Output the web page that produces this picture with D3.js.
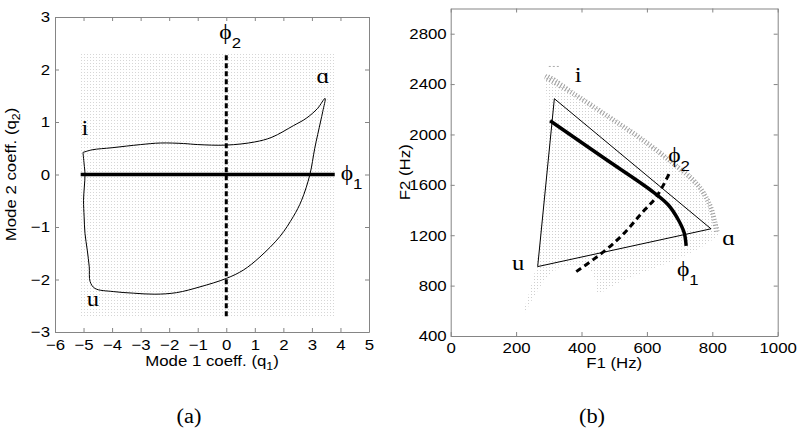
<!DOCTYPE html>
<html>
<head>
<meta charset="utf-8">
<script src="https://cdn.jsdelivr.net/npm/d3@7"></script>
<style>
  body { margin: 0; background: #fff; }
</style>
</head>
<body>
<svg id="chart"></svg>
<script>
const width = 800;
const height = 430;

const sans = '"Liberation Sans", Arial, Helvetica, sans-serif';
const serif = '"Liberation Serif", "Times New Roman", serif';

// ---- panel (a): mode coefficients ----
const q1Ticks = [-6, -5, -4, -3, -2, -1, 0, 1, 2, 3, 4, 5];
const q2Ticks = [-3, -2, -1, 0, 1, 2, 3];
const gridQ1 = [-5.1, 3.8];
const gridQ2 = [-2.7, 2.3];

// closed vowel loop: i -> a -> (down) -> u -> (up) -> i
const vowelLoop = [
  [-5.02, 0.42], [-4.7, 0.47], [-4.0, 0.51], [-3.0, 0.57], [-2.3, 0.6],
  [-1.5, 0.59], [-1.0, 0.57], [0.0, 0.56], [1.0, 0.62], [1.6, 0.71],
  [2.35, 0.93], [2.8, 1.07], [3.2, 1.26], [3.46, 1.45],
  [3.38, 1.2], [3.3, 1.0], [3.1, 0.5], [2.93, 0.0], [2.64, -0.49],
  [2.35, -0.8], [1.88, -1.18], [1.18, -1.57], [0.6, -1.82], [0.0, -1.98],
  [-0.92, -2.14], [-1.74, -2.25], [-2.5, -2.28], [-3.26, -2.26],
  [-3.96, -2.23], [-4.6, -2.17],
  [-4.77, -2.04], [-4.8, -1.76], [-4.87, -1.44], [-4.95, -1.12],
  [-4.98, -0.8], [-5.0, -0.49], [-4.95, 0.0], [-4.98, 0.2], [-5.02, 0.42]
];

const vowelLabelsA = [
  {text: 'i', q1: -4.95, q2: 0.75},
  {text: 'ɑ', q1: 3.39, q2: 1.74},
  {text: 'u', q1: -4.67, q2: -2.5}
];

// ---- panel (b): formant plane ----
const f1Ticks = [0, 200, 400, 600, 800, 1000];
const f2Ticks = [400, 800, 1200, 1600, 2000, 2400, 2800];

const vowelTriangle = [[317, 2284], [796, 1251], [266, 951]];

const phi1Curve = [
  [304, 2109], [472, 1807], [610, 1561], [665, 1442],
  [696, 1323], [714, 1219], [720, 1116]
];

const phi2Curve = [
  [384, 911], [472, 1078], [530, 1215], [584, 1376], [630, 1508], [670, 1700]
];

// outline of the mapped grid (outer edge first, then right, bottom, left)
const fanOutline = [
  [291, 2475], [380, 2340], [487, 2157], [578, 1998], [679, 1799],
  [762, 1609], [799, 1450], [815, 1307], [821, 1219],
  [778, 1124], [701, 1020], [609, 925], [518, 829], [447, 742],
  [441, 845], [420, 941], [380, 965], [334, 941], [294, 861],
  [258, 726], [221, 567], [242, 766], [261, 957], [276, 1322],
  [288, 1799], [294, 2276]
];
const fanOuterEdge = fanOutline.slice(0, 9);
const iStub = [[300, 2540], [336, 2540]];

const vowelLabelsB = [
  {text: 'i', f1: 390, f2: 2420},
  {text: 'ɑ', f1: 850, f2: 1125},
  {text: 'u', f1: 206, f2: 925}
];

const svg = d3.select('#chart')
  .attr('width', width)
  .attr('height', height)
  .style('font-family', sans);

const defs = svg.append('defs');
defs.append('pattern')
  .attr('id', 'dots')
  .attr('width', 3)
  .attr('height', 3)
  .attr('patternUnits', 'userSpaceOnUse')
  .append('rect')
  .attr('width', 1)
  .attr('height', 1)
  .attr('fill', '#d6d6d6');

defs.append('pattern')
  .attr('id', 'fanDots')
  .attr('width', 3)
  .attr('height', 3)
  .attr('patternUnits', 'userSpaceOnUse')
  .append('rect')
  .attr('width', 1)
  .attr('height', 1)
  .attr('fill', '#cfcfcf');

const xA = d3.scaleLinear().domain([-6, 5]).range([55, 369]);
const yA = d3.scaleLinear().domain([-3, 3]).range([332, 17]);
const xB = d3.scaleLinear().domain([0, 1000]).range([450.7, 777.7]);
const yB = d3.scaleLinear().domain([400, 3000]).range([336, 8.5]);

const intFormat = d3.format('d');

function drawAxes(g, x, y, xTicks, yTicks, xPad, yPad) {
  const [x0, x1] = x.range();
  const [y0, y1] = y.range();
  g.append('g')
    .attr('transform', `translate(0, ${y0})`)
    .call(d3.axisBottom(x).tickValues(xTicks).tickFormat(intFormat)
      .tickSize(-4).tickSizeOuter(0).tickPadding(xPad));
  g.append('g')
    .attr('transform', `translate(0, ${y1})`)
    .call(d3.axisTop(x).tickValues(xTicks).tickSize(-4).tickSizeOuter(0).tickFormat(''));
  g.append('g')
    .attr('transform', `translate(${x0}, 0)`)
    .call(d3.axisLeft(y).tickValues(yTicks).tickFormat(intFormat)
      .tickSize(-4).tickSizeOuter(0).tickPadding(yPad));
  g.append('g')
    .attr('transform', `translate(${x1}, 0)`)
    .call(d3.axisRight(y).tickValues(yTicks).tickSize(-4).tickSizeOuter(0).tickFormat(''));
  g.selectAll('.domain, .tick line').attr('stroke', '#858585');
  g.selectAll('.tick text')
    .attr('fill', '#000')
    .attr('font-size', 15)
    .attr('font-family', sans);
}

function addPhi(g, x, y, sub) {
  const t = g.append('text')
    .attr('x', x)
    .attr('y', y)
    .attr('font-family', serif)
    .attr('font-size', 21)
    .text('ϕ');
  t.append('tspan')
    .attr('font-family', sans)
    .attr('font-size', 15)
    .attr('dy', 9)
    .text(sub);
}

// ---------- panel (a) ----------
const a = svg.append('g');

a.append('rect')
  .attr('x', xA(gridQ1[0]))
  .attr('y', yA(gridQ2[1]))
  .attr('width', xA(gridQ1[1]) - xA(gridQ1[0]))
  .attr('height', yA(gridQ2[0]) - yA(gridQ2[1]))
  .attr('fill', 'url(#dots)');

drawAxes(a, xA, yA, q1Ticks, q2Ticks, 7, 5);

const lineA = d3.line().x(d => xA(d[0])).y(d => yA(d[1])).curve(d3.curveCatmullRom);

a.append('path')
  .datum(vowelLoop)
  .attr('d', lineA)
  .attr('fill', 'none')
  .attr('stroke', '#000')
  .attr('stroke-width', 1);

a.append('path')
  .datum([[gridQ1[0], 0], [gridQ1[1], 0]])
  .attr('d', lineA)
  .attr('stroke', '#000')
  .attr('stroke-width', 3.5);

a.append('path')
  .datum([[0, gridQ2[0]], [0, gridQ2[1]]])
  .attr('d', lineA)
  .attr('stroke', '#000')
  .attr('stroke-width', 3)
  .attr('stroke-dasharray', '5,3');

a.selectAll('.vlabel')
  .data(vowelLabelsA)
  .enter()
  .append('text')
  .attr('class', 'vlabel')
  .attr('x', d => xA(d.q1))
  .attr('y', d => yA(d.q2))
  .attr('text-anchor', 'middle')
  .attr('font-family', serif)
  .attr('font-size', 22)
  .text(d => d.text);

addPhi(a, xA(0) - 7, yA(2.3) - 15, '2');
addPhi(a, xA(gridQ1[1]) + 6, yA(0) + 5, '1');

const xLabelA = a.append('text')
  .attr('x', (xA.range()[0] + xA.range()[1]) / 2)
  .attr('y', 366)
  .attr('text-anchor', 'middle')
  .attr('font-size', 15)
  .text('Mode 1 coeff. (q');
xLabelA.append('tspan').attr('font-size', 11).attr('dy', 4).text('1');
xLabelA.append('tspan').attr('dy', -4).text(')');

const yLabelA = a.append('text')
  .attr('transform', `translate(16, ${(yA.range()[0] + yA.range()[1]) / 2}) rotate(-90)`)
  .attr('text-anchor', 'middle')
  .attr('font-size', 15)
  .text('Mode 2 coeff. (q');
yLabelA.append('tspan').attr('font-size', 11).attr('dy', 4).text('2');
yLabelA.append('tspan').attr('dy', -4).text(')');

a.append('text')
  .attr('x', 189)
  .attr('y', 423)
  .attr('text-anchor', 'middle')
  .attr('font-family', serif)
  .attr('font-size', 20)
  .text('(a)');

// ---------- panel (b) ----------
const b = svg.append('g');

const lineB = d3.line().x(d => xB(d[0])).y(d => yB(d[1]));

defs.append('clipPath')
  .attr('id', 'fanClip')
  .append('path')
  .datum(fanOutline)
  .attr('d', lineB.curve(d3.curveCatmullRomClosed));

b.append('path')
  .datum(fanOutline)
  .attr('d', lineB.curve(d3.curveCatmullRomClosed))
  .attr('fill', 'url(#fanDots)');

b.append('path')
  .datum(fanOuterEdge)
  .attr('clip-path', 'url(#fanClip)')
  .attr('d', lineB.curve(d3.curveCatmullRom))
  .attr('fill', 'none')
  .attr('stroke', '#a0a0a0')
  .attr('stroke-width', 10)
  .attr('stroke-dasharray', '1,2');

b.append('path')
  .datum(iStub)
  .attr('d', lineB.curve(d3.curveLinear))
  .attr('stroke', '#aaa')
  .attr('stroke-width', 1)
  .attr('stroke-dasharray', '2,2');

drawAxes(b, xB, yB, f1Ticks, f2Ticks, 6, 4);

b.append('path')
  .datum(vowelTriangle)
  .attr('d', lineB.curve(d3.curveLinearClosed))
  .attr('fill', 'none')
  .attr('stroke', '#000')
  .attr('stroke-width', 1);

b.append('path')
  .datum(phi1Curve)
  .attr('d', lineB.curve(d3.curveCatmullRom))
  .attr('fill', 'none')
  .attr('stroke', '#000')
  .attr('stroke-width', 3.5);

b.append('path')
  .datum(phi2Curve)
  .attr('d', lineB.curve(d3.curveCatmullRom))
  .attr('fill', 'none')
  .attr('stroke', '#000')
  .attr('stroke-width', 3)
  .attr('stroke-dasharray', '6,4');

b.selectAll('.vlabel')
  .data(vowelLabelsB)
  .enter()
  .append('text')
  .attr('class', 'vlabel')
  .attr('x', d => xB(d.f1))
  .attr('y', d => yB(d.f2))
  .attr('text-anchor', 'middle')
  .attr('font-family', serif)
  .attr('font-size', 22)
  .text(d => d.text);

addPhi(b, xB(665), yB(1780), '2');
addPhi(b, xB(692), yB(880), '1');

b.append('text')
  .attr('x', (xB.range()[0] + xB.range()[1]) / 2)
  .attr('y', 368)
  .attr('text-anchor', 'middle')
  .attr('font-size', 15)
  .text('F1 (Hz)');

b.append('text')
  .attr('transform', `translate(410, ${(yB.range()[0] + yB.range()[1]) / 2}) rotate(-90)`)
  .attr('text-anchor', 'middle')
  .attr('font-size', 15)
  .text('F2 (Hz)');

b.append('text')
  .attr('x', 592)
  .attr('y', 423)
  .attr('text-anchor', 'middle')
  .attr('font-family', serif)
  .attr('font-size', 20)
  .text('(b)');

// the source figure is slightly wider than tall: stretch text a little
svg.selectAll('text').each(function() {
  const len = this.getComputedTextLength();
  if (len > 0) {
    d3.select(this)
      .attr('textLength', len * 1.12)
      .attr('lengthAdjust', 'spacingAndGlyphs');
  }
});
</script>
</body>
</html>
